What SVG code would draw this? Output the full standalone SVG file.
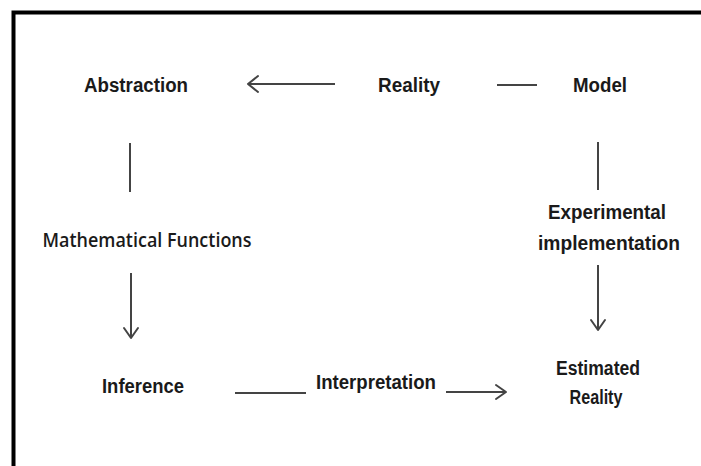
<svg xmlns="http://www.w3.org/2000/svg" width="701" height="466" viewBox="0 0 701 466">
<style>
.t{font-family:"Liberation Sans",Arial,sans-serif;font-weight:bold;font-size:20px;fill:#1a1a1a;text-anchor:middle}
.c{font-family:"Open Sans","Noto Sans",sans-serif;font-weight:600;font-size:20px;fill:#1a1a1a;text-anchor:middle}
.ln{stroke:#444;stroke-width:2;fill:none}
.hd{stroke:#444;stroke-width:2;fill:none;stroke-linecap:round;stroke-linejoin:round}
</style>
<rect width="701" height="466" fill="#fff"/>
<path d="M13.5 466 V12.5 H701" stroke="#000" stroke-width="4" fill="none"/>
<g id="abstraction"><text class="t" x="136" y="92" textLength="104" lengthAdjust="spacingAndGlyphs">Abstraction</text></g>
<g id="reality"><text class="t" x="409" y="92" textLength="62" lengthAdjust="spacingAndGlyphs">Reality</text></g>
<g id="model"><text class="t" x="600" y="92" textLength="54" lengthAdjust="spacingAndGlyphs">Model</text></g>
<g id="math"><text class="c" x="147" y="247" textLength="209" lengthAdjust="spacingAndGlyphs">Mathematical Functions</text></g>
<g id="experimental"><text class="t" x="607" y="219" textLength="118" lengthAdjust="spacingAndGlyphs">Experimental</text><text class="t" x="609" y="250" textLength="142" lengthAdjust="spacingAndGlyphs">implementation</text></g>
<g id="inference"><text class="t" x="143" y="393" textLength="82" lengthAdjust="spacingAndGlyphs">Inference</text></g>
<g id="interpretation"><text class="t" x="376" y="389" textLength="120" lengthAdjust="spacingAndGlyphs">Interpretation</text></g>
<g id="estimated"><text class="t" x="598" y="375" textLength="84" lengthAdjust="spacingAndGlyphs">Estimated</text><text class="t" x="596" y="404" textLength="53" lengthAdjust="spacingAndGlyphs">Reality</text></g>
<g id="connectors">
<line class="ln" x1="335" y1="84" x2="248" y2="84"/>
<path class="hd" d="M258 76 L248 84 L258 92"/>
<line class="ln" x1="497" y1="85" x2="537" y2="85"/>
<line class="ln" x1="130" y1="143" x2="130" y2="192"/>
<line class="ln" x1="131" y1="273" x2="131" y2="338"/>
<path class="hd" d="M124 328 L131 338 L138 328"/>
<line class="ln" x1="598" y1="142" x2="598" y2="190"/>
<line class="ln" x1="598" y1="265" x2="598" y2="330"/>
<path class="hd" d="M591 320 L598 330 L605 320"/>
<line class="ln" x1="235" y1="393" x2="306" y2="393"/>
<line class="ln" x1="446" y1="392" x2="506" y2="392"/>
<path class="hd" d="M496 385 L506 392 L496 399"/>
</g>
</svg>
